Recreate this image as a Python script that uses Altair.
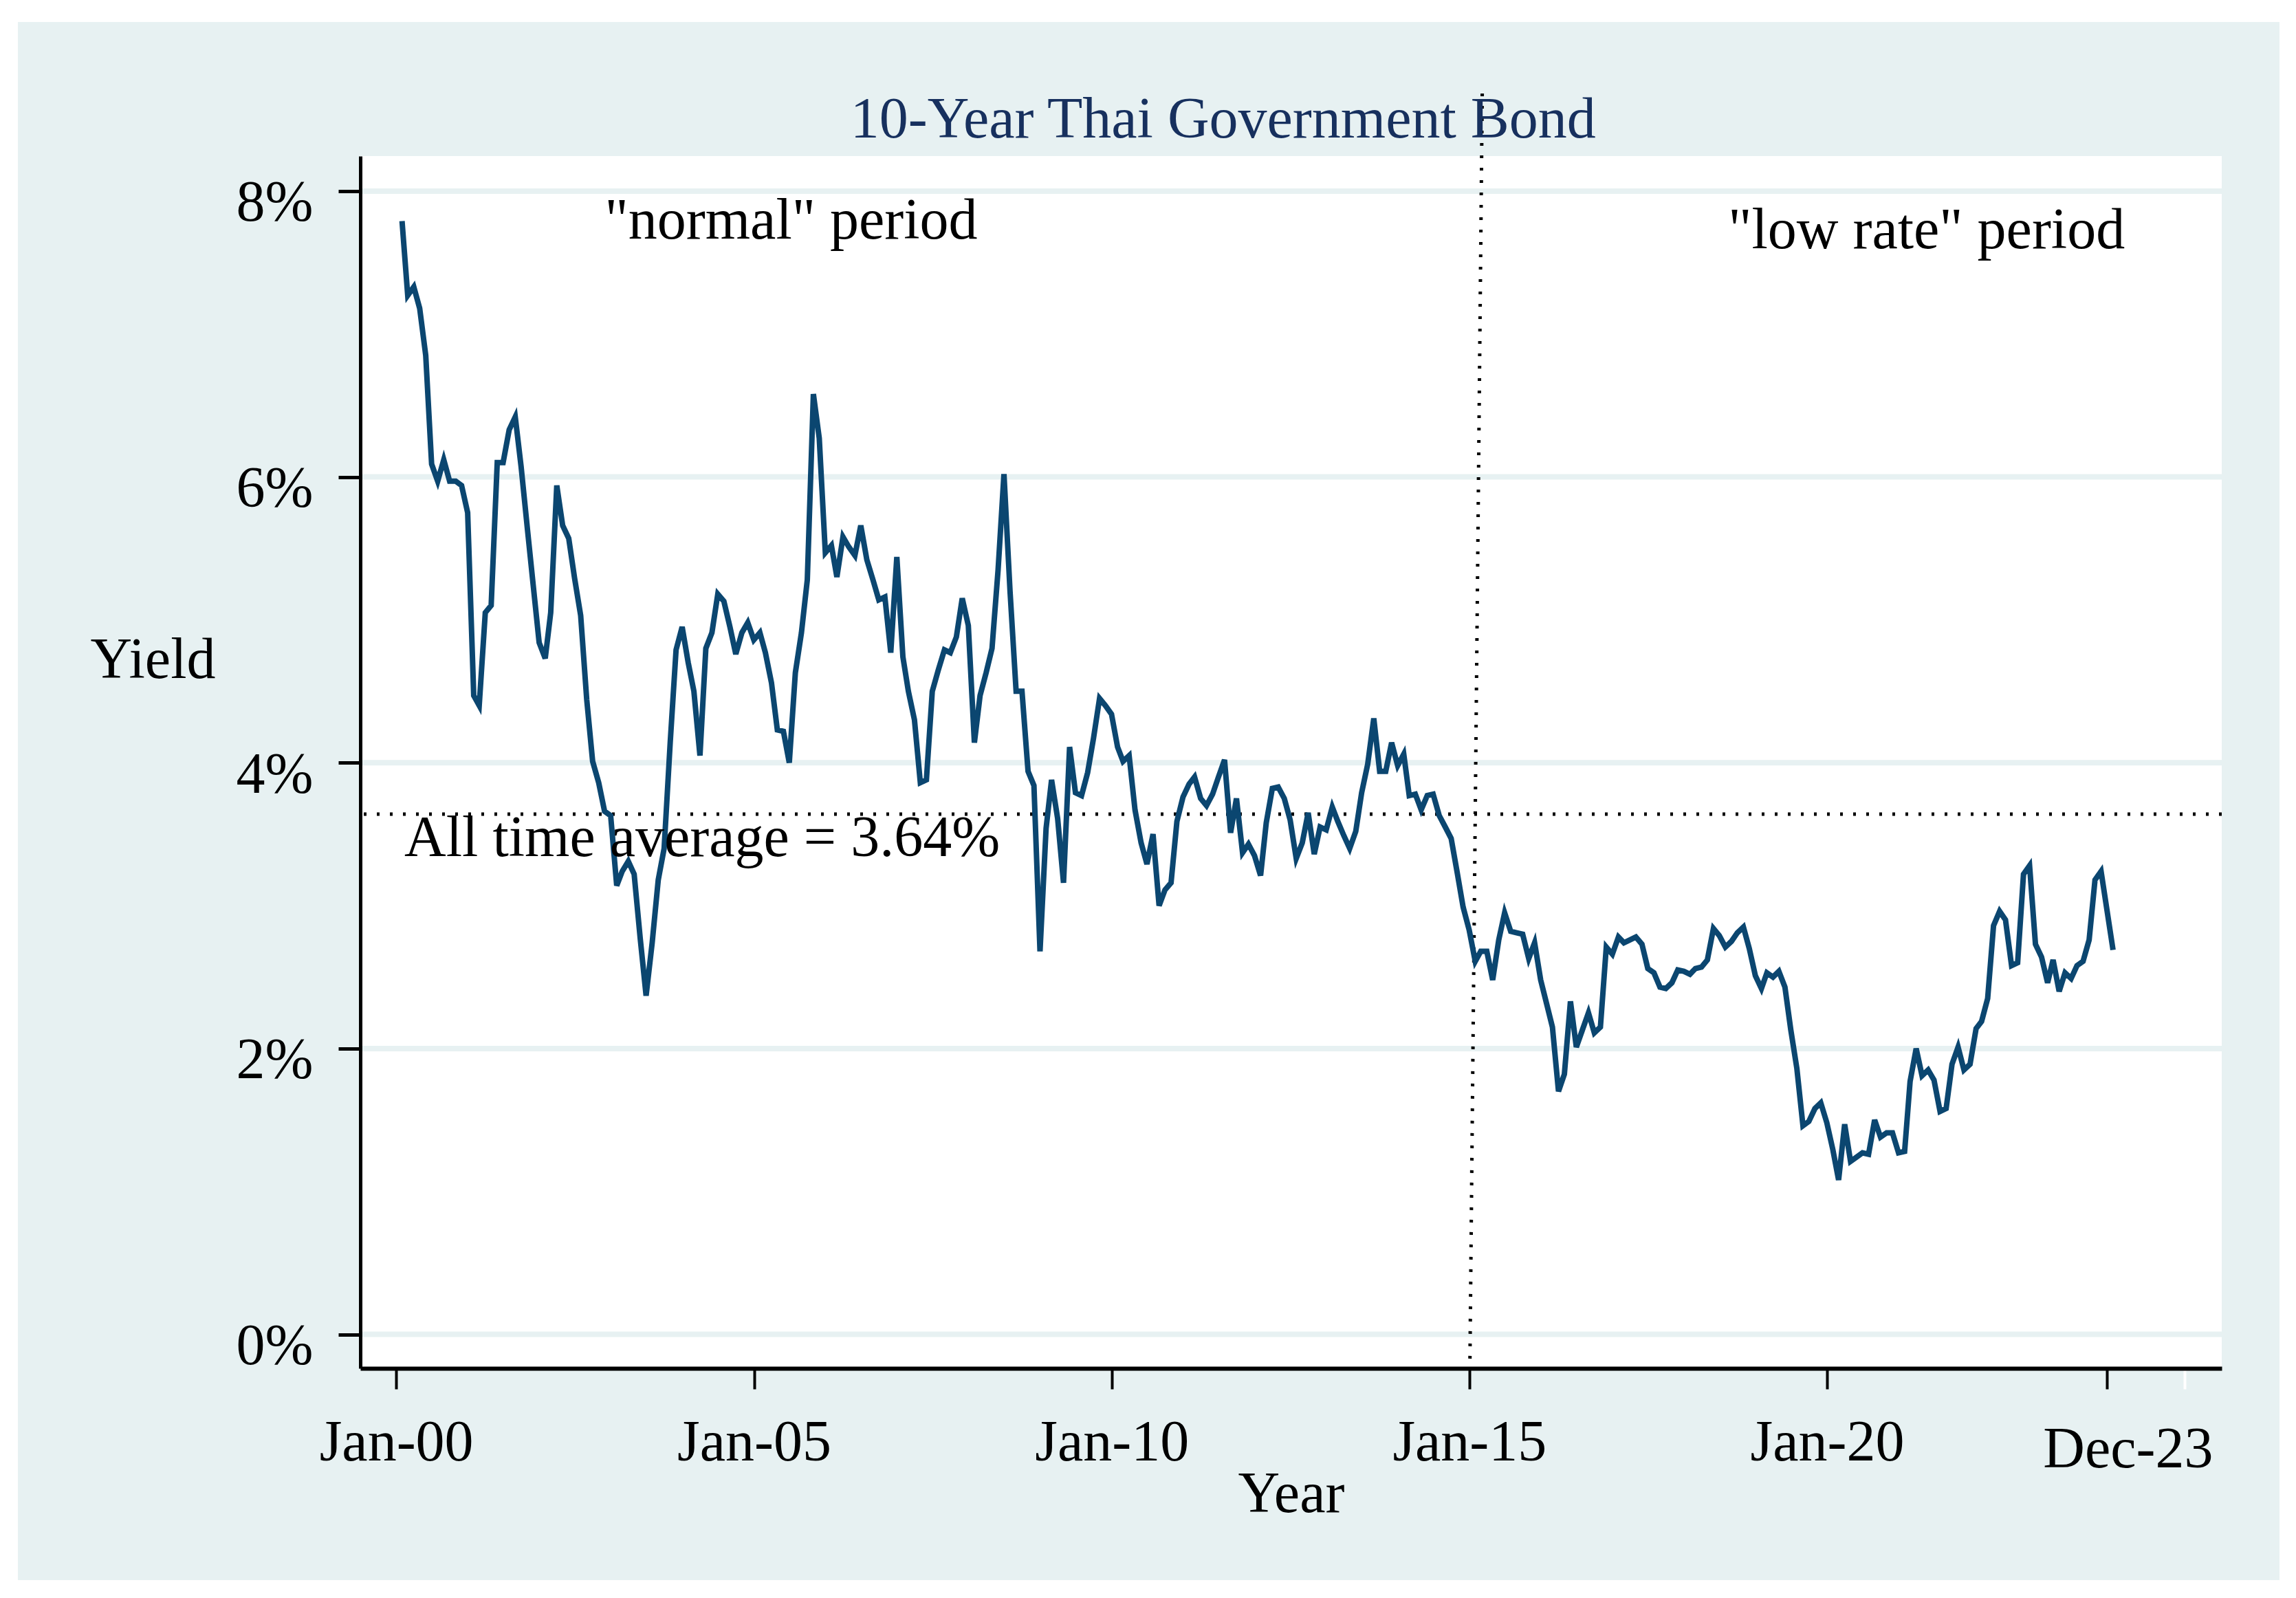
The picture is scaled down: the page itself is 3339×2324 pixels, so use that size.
import altair as alt
import pandas as pd

# ---- data: 10-year Thai government bond yield (%), monthly, Jan-2000 .. Dec-2023
yields_2000 = [7.79, 7.27, 7.33, 7.18, 6.85, 6.09, 5.97, 6.12, 5.97, 5.97, 5.94, 5.75]
yields_2001 = [4.47, 4.40, 5.05, 5.10, 6.10, 6.10, 6.33, 6.42, 6.07, 5.65, 5.25, 4.84]
yields_2002 = [4.73, 5.05, 5.94, 5.66, 5.57, 5.29, 5.03, 4.44, 4.01, 3.86, 3.66, 3.63]
yields_2003 = [3.14, 3.24, 3.31, 3.22, 2.77, 2.37, 2.74, 3.18, 3.40, 4.14, 4.79, 4.95]
yields_2004 = [4.70, 4.50, 4.05, 4.80, 4.91, 5.18, 5.13, 4.95, 4.76, 4.91, 4.98, 4.86]
yields_2005 = [4.91, 4.77, 4.56, 4.23, 4.22, 4.00, 4.63, 4.91, 5.28, 6.58, 6.27, 5.47]
yields_2006 = [5.52, 5.30, 5.58, 5.51, 5.45, 5.66, 5.42, 5.28, 5.14, 5.16, 4.77, 5.44]
yields_2007 = [4.74, 4.50, 4.30, 3.86, 3.88, 4.50, 4.65, 4.79, 4.77, 4.88, 5.15, 4.96]
yields_2008 = [4.14, 4.47, 4.63, 4.80, 5.35, 6.02, 5.20, 4.50, 4.50, 3.94, 3.84, 2.68]
yields_2009 = [3.54, 3.88, 3.61, 3.16, 4.11, 3.79, 3.77, 3.93, 4.17, 4.45, 4.40, 4.34]
yields_2010 = [4.11, 4.01, 4.05, 3.67, 3.44, 3.29, 3.50, 3.00, 3.11, 3.16, 3.59, 3.76]
yields_2011 = [3.85, 3.90, 3.75, 3.70, 3.78, 3.90, 4.02, 3.51, 3.75, 3.37, 3.43, 3.35]
yields_2012 = [3.21, 3.58, 3.82, 3.83, 3.75, 3.60, 3.33, 3.44, 3.65, 3.36, 3.55, 3.53]
yields_2013 = [3.69, 3.59, 3.49, 3.40, 3.52, 3.79, 3.99, 4.31, 3.94, 3.94, 4.14, 3.98]
yields_2014 = [4.06, 3.77, 3.78, 3.67, 3.77, 3.78, 3.63, 3.55, 3.47, 3.23, 2.99, 2.83]
yields_2015 = [2.61, 2.68, 2.68, 2.48, 2.76, 2.95, 2.82, 2.81, 2.80, 2.63, 2.74, 2.48]
yields_2016 = [2.31, 2.15, 1.70, 1.82, 2.33, 2.01, 2.13, 2.25, 2.11, 2.15, 2.71, 2.66]
yields_2017 = [2.78, 2.74, 2.76, 2.78, 2.73, 2.56, 2.53, 2.43, 2.42, 2.46, 2.55, 2.54]
yields_2018 = [2.52, 2.56, 2.57, 2.62, 2.84, 2.79, 2.71, 2.75, 2.81, 2.85, 2.70, 2.51]
yields_2019 = [2.42, 2.53, 2.50, 2.54, 2.43, 2.13, 1.86, 1.46, 1.49, 1.58, 1.62, 1.48]
yields_2020 = [1.29, 1.08, 1.47, 1.21, 1.24, 1.27, 1.26, 1.50, 1.38, 1.41, 1.41, 1.27]
yields_2021 = [1.28, 1.77, 2.00, 1.81, 1.85, 1.78, 1.56, 1.58, 1.89, 2.01, 1.85, 1.89]
yields_2022 = [2.14, 2.19, 2.35, 2.86, 2.96, 2.90, 2.58, 2.60, 3.22, 3.28, 2.73, 2.64]
yields_2023 = [2.46, 2.62, 2.40, 2.53, 2.49, 2.58, 2.61, 2.76, 3.18, 3.24, 2.97, 2.69]

yields = (yields_2000 + yields_2001 + yields_2002 + yields_2003 + yields_2004 + yields_2005
          + yields_2006 + yields_2007 + yields_2008 + yields_2009 + yields_2010 + yields_2011
          + yields_2012 + yields_2013 + yields_2014 + yields_2015 + yields_2016 + yields_2017
          + yields_2018 + yields_2019 + yields_2020 + yields_2021 + yields_2022 + yields_2023)
dates = pd.date_range(start="2000-01-31", periods=len(yields), freq=pd.offsets.MonthEnd())

AVERAGE = 3.64
grid_values = [0, 2, 4, 6, 8]
tick_dates = [(2000, 1), (2005, 1), (2010, 1), (2015, 1), (2020, 1), (2023, 12), (2025, 1)]

title_text = "10-Year Thai Government Bond"
annotations = pd.DataFrame({
    "label": [title_text, '"normal" period', '"low rate" period', "All time average = 3.64%"],
    "x": pd.to_datetime(["2006-05-08", "2002-12-01", "2018-08-14", "2000-02-12"]),
    "y": [8.374, 7.67, 7.60, 3.347],
    "c": ["#17305e", "black", "black", "black"],
})

# ---- styling
W, H = 2707, 1763
FONT = "Liberation Serif"
FS = 84
BG = "#e7f1f2"
LINE = "#0b4670"

xscale = alt.Scale(domain=[alt.DateTime(year=1999, month=7, date=2),
                           alt.DateTime(year=2025, month=7, date=8)], nice=False)
yscale = alt.Scale(domain=[-0.238, 8.245], nice=False, zero=False)

x_axis = alt.Axis(
    values=[alt.DateTime(year=y, month=m, date=1) for y, m in tick_dates],
    format="%b-%y",
    labelExpr="year(datum.value) == 2025 ? '' : datum.label",
    title="Year", titleFont=FONT, titleFontSize=FS, titleFontWeight="normal", titleColor="black",
    titleBaseline="alphabetic", titleY=208,
    labelFont=FONT, labelFontSize=FS, labelColor="black", labelBaseline="alphabetic",
    labelPadding=alt.condition("year(datum.value) == 2023", alt.value(113), alt.value(103)),
    labelOffset=alt.condition("year(datum.value) == 2023", alt.value(30), alt.value(0)),
    labelFlush=False, labelOverlap=False, labelAlign="center", labelLimit=1000,
    tickSize=30, tickWidth=4,
    tickColor=alt.condition("year(datum.value) == 2025", alt.value("white"), alt.value("black")),
    domainColor="black", domainWidth=6, grid=False, zindex=1,
)
y_axis = alt.Axis(
    values=grid_values, labelExpr="datum.value + '%'",
    title="Yield", titleAngle=0, titleAlign="center", titleBaseline="alphabetic",
    titleX=-302, titleY=758, titleFont=FONT, titleFontSize=FS, titleFontWeight="normal",
    titleColor="black",
    labelFont=FONT, labelFontSize=FS, labelColor="black", labelAlign="right",
    labelBaseline="alphabetic", labelOffset=43, labelPadding=37, labelLimit=1000,
    tickSize=32, tickWidth=5, tickColor="black",
    domainColor="black", domainWidth=5, grid=False, zindex=1,
)

one = pd.DataFrame({"k": [0]})
blue_bg = alt.Chart(one).mark_rect(color=BG).encode(
    x=alt.value(-498), x2=alt.value(2791), y=alt.value(-195), y2=alt.value(2071))
white_bg = alt.Chart(one).mark_rect(color="white").encode(
    x=alt.value(0), x2=alt.value(W), y=alt.value(0), y2=alt.value(H))

grid = alt.Chart(pd.DataFrame({"g": grid_values})).mark_rule(color=BG, strokeWidth=8).encode(
    y=alt.Y("g:Q", scale=yscale, axis=y_axis))

avg = alt.Chart(pd.DataFrame({"a": [AVERAGE]})).mark_rule(
    color="black", strokeWidth=5, strokeDash=[4, 15]).encode(
    y=alt.Y("a:Q", scale=yscale, axis=y_axis))

vdf = pd.DataFrame({"x": pd.to_datetime(["2015-01-04"]), "x2": pd.to_datetime(["2015-03-08"]),
                    "y": [-0.17], "y2": [8.73]})
vline = alt.Chart(vdf).mark_rule(color="black", strokeWidth=5, strokeDash=[4, 14]).encode(
    x=alt.X("x:T", scale=xscale, axis=x_axis), x2="x2:T",
    y=alt.Y("y:Q", scale=yscale, axis=y_axis), y2="y2:Q")

df = pd.DataFrame({"date": dates, "yield": yields})
line = alt.Chart(df).mark_line(color=LINE, strokeWidth=8, strokeJoin="miter").encode(
    x=alt.X("date:T", scale=xscale, axis=x_axis),
    y=alt.Y("yield:Q", scale=yscale, axis=y_axis))

texts = alt.Chart(annotations).mark_text(
    font=FONT, fontSize=FS, align="left", baseline="alphabetic").encode(
    x=alt.X("x:T", scale=xscale, axis=x_axis),
    y=alt.Y("y:Q", scale=yscale, axis=y_axis),
    text="label:N",
    color=alt.Color("c:N", scale=None))

chart = alt.layer(blue_bg, white_bg, grid, avg, vline, line, texts).properties(
    width=W, height=H, background="white",
    padding={"left": 18, "top": 24, "right": 16, "bottom": 18},
).configure_view(strokeWidth=0)

chart.save("out.html", embed_options={"renderer": "svg", "actions": False})
